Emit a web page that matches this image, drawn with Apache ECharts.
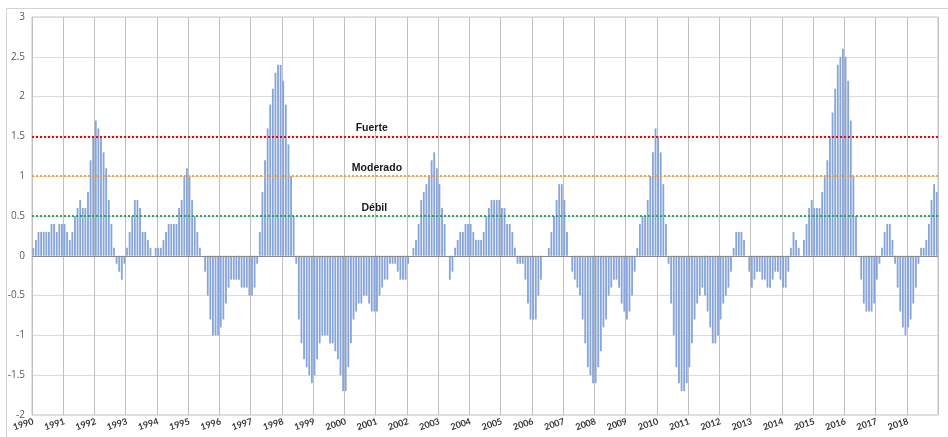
<!DOCTYPE html>
<html>
<head>
<meta charset="utf-8">
<script src="https://cdn.jsdelivr.net/npm/echarts@6/dist/echarts.min.js"></script>
<style>
  html, body { margin: 0; padding: 0; background: #ffffff; overflow: hidden; }
  #frame { position: absolute; left: 6px; top: 8px; width: 960px; height: 460px; border: 1px solid #d4d4d4; }
  #chart { position: absolute; left: 0; top: 0; width: 948px; height: 437px; }
</style>
</head>
<body>
<div id="frame"></div>
<div id="chart"></div>
<script>
// Monthly index values, January..December of each year
const y1990 = [0.1, 0.2, 0.3, 0.3, 0.3, 0.3, 0.3, 0.4, 0.4, 0.3, 0.4, 0.4];
const y1991 = [0.4, 0.3, 0.2, 0.3, 0.5, 0.6, 0.7, 0.6, 0.6, 0.8, 1.2, 1.5];
const y1992 = [1.7, 1.6, 1.5, 1.3, 1.1, 0.7, 0.4, 0.1, -0.1, -0.2, -0.3, -0.1];
const y1993 = [0.1, 0.3, 0.5, 0.7, 0.7, 0.6, 0.3, 0.3, 0.2, 0.1, 0.0, 0.1];
const y1994 = [0.1, 0.1, 0.2, 0.3, 0.4, 0.4, 0.4, 0.4, 0.6, 0.7, 1.0, 1.1];
const y1995 = [1.0, 0.7, 0.5, 0.3, 0.1, 0.0, -0.2, -0.5, -0.8, -1.0, -1.0, -1.0];
const y1996 = [-0.9, -0.8, -0.6, -0.4, -0.3, -0.3, -0.3, -0.3, -0.4, -0.4, -0.4, -0.5];
const y1997 = [-0.5, -0.4, -0.1, 0.3, 0.8, 1.2, 1.6, 1.9, 2.1, 2.3, 2.4, 2.4];
const y1998 = [2.2, 1.9, 1.4, 1.0, 0.5, -0.1, -0.8, -1.1, -1.3, -1.4, -1.5, -1.6];
const y1999 = [-1.5, -1.3, -1.1, -1.0, -1.0, -1.0, -1.1, -1.1, -1.2, -1.3, -1.5, -1.7];
const y2000 = [-1.7, -1.4, -1.1, -0.8, -0.7, -0.6, -0.6, -0.5, -0.5, -0.6, -0.7, -0.7];
const y2001 = [-0.7, -0.5, -0.4, -0.3, -0.3, -0.1, -0.1, -0.1, -0.2, -0.3, -0.3, -0.3];
const y2002 = [-0.1, 0.0, 0.1, 0.2, 0.4, 0.7, 0.8, 0.9, 1.0, 1.2, 1.3, 1.1];
const y2003 = [0.9, 0.6, 0.4, 0.0, -0.3, -0.2, 0.1, 0.2, 0.3, 0.3, 0.4, 0.4];
const y2004 = [0.4, 0.3, 0.2, 0.2, 0.2, 0.3, 0.5, 0.6, 0.7, 0.7, 0.7, 0.7];
const y2005 = [0.6, 0.6, 0.4, 0.4, 0.3, 0.1, -0.1, -0.1, -0.1, -0.3, -0.6, -0.8];
const y2006 = [-0.8, -0.8, -0.5, -0.3, 0.0, 0.0, 0.1, 0.3, 0.5, 0.7, 0.9, 0.9];
const y2007 = [0.7, 0.3, 0.0, -0.2, -0.3, -0.4, -0.5, -0.8, -1.1, -1.4, -1.5, -1.6];
const y2008 = [-1.6, -1.4, -1.2, -0.9, -0.8, -0.5, -0.4, -0.3, -0.3, -0.4, -0.6, -0.7];
const y2009 = [-0.8, -0.7, -0.5, -0.2, 0.1, 0.4, 0.5, 0.5, 0.7, 1.0, 1.3, 1.6];
const y2010 = [1.5, 1.3, 0.9, 0.4, -0.1, -0.6, -1.0, -1.4, -1.6, -1.7, -1.7, -1.6];
const y2011 = [-1.4, -1.1, -0.8, -0.6, -0.5, -0.4, -0.5, -0.7, -0.9, -1.1, -1.1, -1.0];
const y2012 = [-0.8, -0.6, -0.5, -0.4, -0.2, 0.1, 0.3, 0.3, 0.3, 0.2, 0.0, -0.2];
const y2013 = [-0.4, -0.3, -0.2, -0.2, -0.3, -0.3, -0.4, -0.4, -0.3, -0.2, -0.2, -0.3];
const y2014 = [-0.4, -0.4, -0.2, 0.1, 0.3, 0.2, 0.1, 0.0, 0.2, 0.4, 0.6, 0.7];
const y2015 = [0.6, 0.6, 0.6, 0.8, 1.0, 1.2, 1.5, 1.8, 2.1, 2.4, 2.5, 2.6];
const y2016 = [2.5, 2.2, 1.7, 1.0, 0.5, 0.0, -0.3, -0.6, -0.7, -0.7, -0.7, -0.6];
const y2017 = [-0.3, -0.1, 0.1, 0.3, 0.4, 0.4, 0.2, -0.1, -0.4, -0.7, -0.9, -1.0];
const y2018 = [-0.9, -0.8, -0.6, -0.4, -0.1, 0.1, 0.1, 0.2, 0.4, 0.7, 0.9, 0.8];

const years = [1990, 1991, 1992, 1993, 1994, 1995, 1996, 1997, 1998, 1999, 2000, 2001, 2002, 2003,
  2004, 2005, 2006, 2007, 2008, 2009, 2010, 2011, 2012, 2013, 2014, 2015, 2016, 2017, 2018];
const yearValues = [y1990, y1991, y1992, y1993, y1994, y1995, y1996, y1997, y1998, y1999, y2000,
  y2001, y2002, y2003, y2004, y2005, y2006, y2007, y2008, y2009, y2010, y2011, y2012, y2013,
  y2014, y2015, y2016, y2017, y2018];

// Intensity thresholds and their names
const thresholdValues = [1.5, 1.0, 0.5];
const thresholdNames = ['Fuerte', 'Moderado', 'Débil'];
const thresholdColors = ['#ff0000', '#f7a13a', '#1fae55'];
const thresholdLabelAt = [130, 132, 131]; // month index where each name sits

const categories = [];
const values = [];
years.forEach(function (yr, i) {
  yearValues[i].forEach(function (v, m) {
    categories.push(yr + '-' + (m + 1));
    values.push(v);
  });
});

const chart = echarts.init(document.getElementById('chart'), null, { renderer: 'canvas' });

const lineData = thresholdValues.map(function (v, i) {
  return {
    yAxis: v,
    lineStyle: { color: thresholdColors[i], type: 'dotted', width: 2 },
    label: { show: false }
  };
});
lineData.push({
  yAxis: 0,
  lineStyle: { color: '#8a8a8a', type: 'solid', width: 1 },
  label: { show: false }
});

const pointData = thresholdValues.map(function (v, i) {
  return {
    coord: [thresholdLabelAt[i], v],
    value: thresholdNames[i]
  };
});

chart.setOption({
  animation: false,
  backgroundColor: 'transparent',
  grid: { left: 32, right: 10, top: 17, bottom: 22, show: true, borderColor: '#c4c4c4', borderWidth: 1 },
  xAxis: {
    type: 'category',
    data: categories,
    boundaryGap: true,
    axisLine: { show: false, onZero: false },
    axisTick: { show: false },
    splitLine: {
      show: true,
      interval: function (index) { return index % 12 === 0; },
      lineStyle: { color: '#c0c0c0', width: 1 }
    },
    axisLabel: {
      interval: function (index) { return index % 12 === 0; },
      formatter: function (val) { return val.split('-')[0]; },
      rotate: 18,
      margin: 6,
      fontSize: 9,
      fontWeight: 'bold',
      fontFamily: 'Lato, "DejaVu Sans", sans-serif',
      color: '#333333'
    }
  },
  yAxis: {
    type: 'value',
    min: -2,
    max: 3,
    interval: 0.5,
    axisLine: { show: false },
    axisTick: { show: false },
    splitLine: { show: true, lineStyle: { color: '#dcdcdc', width: 1 } },
    axisLabel: {
      margin: 7,
      fontSize: 10,
      fontFamily: '"Open Sans", "DejaVu Sans", sans-serif',
      color: '#595959'
    }
  },
  series: [{
    type: 'bar',
    data: values,
    barCategoryGap: '30%',
    itemStyle: { color: '#87a5da' },
    markLine: {
      silent: true,
      symbol: ['none', 'none'],
      data: lineData
    },
    markPoint: {
      silent: true,
      symbol: 'circle',
      symbolSize: 1,
      itemStyle: { color: 'rgba(0,0,0,0)' },
      label: {
        show: true,
        position: 'inside',
        offset: [0, -8],
        fontSize: 10.5,
        fontWeight: 'bold',
        fontFamily: '"Liberation Sans", Arial, sans-serif',
        color: '#1a1a1a',
        formatter: function (p) { return p.value; }
      },
      data: pointData
    }
  }]
});
</script>
</body>
</html>
